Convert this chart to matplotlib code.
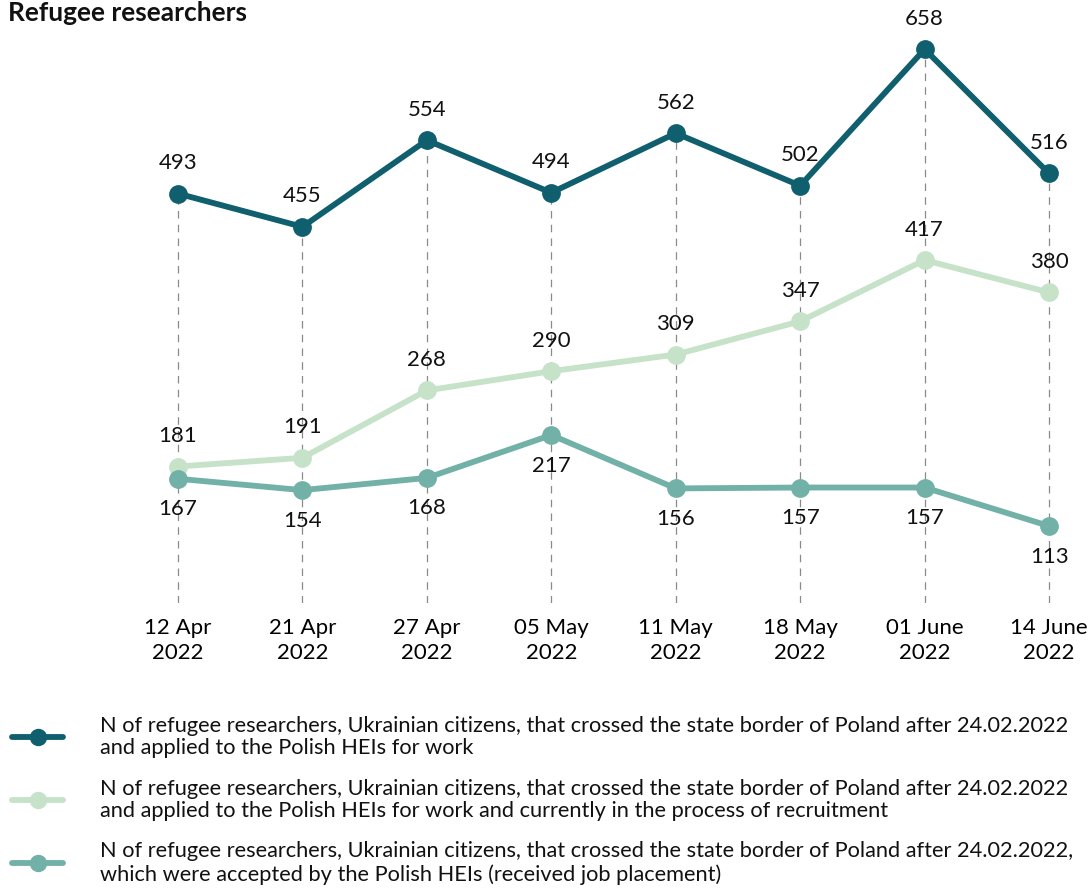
import matplotlib.pyplot as plt
from matplotlib.lines import Line2D

plt.rcParams['font.family'] = ['Lato', 'DejaVu Sans']

# data
dates = ['12 Apr\n2022', '21 Apr\n2022', '27 Apr\n2022', '05 May\n2022',
         '11 May\n2022', '18 May\n2022', '01 June\n2022', '14 June\n2022']
applied = [493, 455, 554, 494, 562, 502, 658, 516]
recruiting = [181, 191, 268, 290, 309, 347, 417, 380]
accepted = [167, 154, 168, 217, 156, 157, 157, 113]

legend_labels = [
    'N of refugee researchers, Ukrainian citizens, that crossed the state border of Poland after 24.02.2022\n'
    'and applied to the Polish HEIs for work',
    'N of refugee researchers, Ukrainian citizens, that crossed the state border of Poland after 24.02.2022\n'
    'and applied to the Polish HEIs for work and currently in the process of recruitment',
    'N of refugee researchers, Ukrainian citizens, that crossed the state border of Poland after 24.02.2022,\n'
    'which were accepted by the Polish HEIs (received job placement)',
]

c_dark = '#0f5f6e'
c_light = '#c6e2c9'
c_mid = '#72b1a7'

W, H = 1092, 893
fig = plt.figure(figsize=(W / 100, H / 100), dpi=100)
# axes placed in pixels: left 120, right 1092, top 30, bottom 603
ax = fig.add_axes([120 / W, (H - 603) / H, (1092 - 120) / W, (603 - 30) / H])

x = list(range(len(dates)))
ymin = 25

# dashed guides from the top point down
for i in x:
    ax.plot([i, i], [ymin, applied[i]], ls=(0, (6, 5)), color='#8a8a8a', lw=0.9, zorder=1)

series = [(applied, c_dark, 'above'), (recruiting, c_light, 'above'), (accepted, c_mid, 'below')]
for vals, col, pos in series:
    ax.plot(x, vals, color=col, lw=4.2, marker='o', ms=12.5, zorder=3, solid_capstyle='round')
    off = 22 if pos == 'above' else -22
    for i, v in zip(x, vals):
        ax.annotate(str(v), (i, v), xytext=(0, off), textcoords='offset points',
                    ha='center', va='center', fontsize=16, color='#111111')

ax.set_xlim(-0.466, 7.345)
ax.set_ylim(ymin, 680)
ax.set_xticks(x)
ax.set_xticklabels(dates, fontsize=16, linespacing=1.3)
ax.tick_params(axis='x', length=0, pad=11)
ax.set_yticks([])
for s in ax.spines.values():
    s.set_visible(False)

fig.text(8 / W, 1 - 1 / H, 'Refugee researchers', fontsize=19, fontweight='bold',
         ha='left', va='top', color='#111111')

# legend drawn by hand
for k, (lab, col) in enumerate(zip(legend_labels, [c_dark, c_light, c_mid])):
    yc = 737 + 63 * k
    fy = 1 - yc / H
    fig.add_artist(Line2D([12 / W, 63 / W], [fy, fy], color=col, lw=4.2,
                          solid_capstyle='round'))
    fig.add_artist(Line2D([37.5 / W], [fy], color=col, marker='o', ms=11.5, lw=0))
    fig.text(100 / W, fy, lab, fontsize=15.7, ha='left', va='center',
             linespacing=1.15, color='#111111')

fig.savefig('out.png', dpi=100)
